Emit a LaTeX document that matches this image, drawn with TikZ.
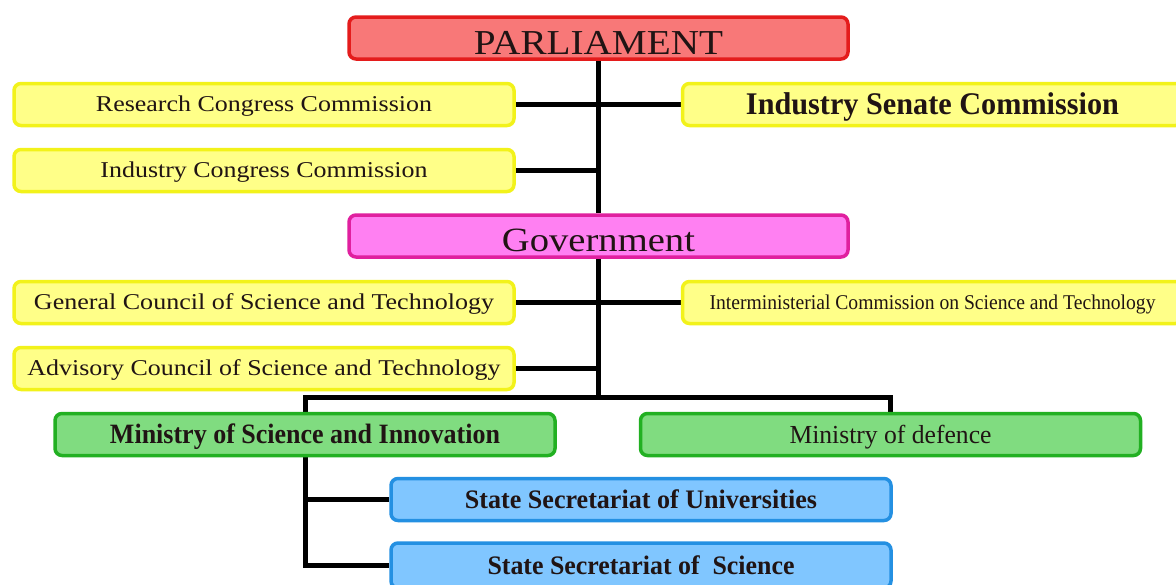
\documentclass[tikz,border=0pt]{standalone}
\usepackage{fontspec}
\usepackage{graphicx}
\usetikzlibrary{backgrounds}
\setmainfont{Liberation Serif}
\newcommand\fitw[2]{\resizebox{#1}{\height}{#2}}
\definecolor{redF}{HTML}{F87878}
\definecolor{redB}{HTML}{E41C1C}
\definecolor{yelF}{HTML}{FFFF88}
\definecolor{yelB}{HTML}{F2F21A}
\definecolor{magF}{HTML}{FF80F2}
\definecolor{magB}{HTML}{E0209F}
\definecolor{grnF}{HTML}{80DC80}
\definecolor{grnB}{HTML}{22B022}
\definecolor{bluF}{HTML}{80C6FF}
\definecolor{bluB}{HTML}{2490E2}
\definecolor{txt}{HTML}{201414}
\tikzset{
  box/.style={draw, line width=3.5pt, rounded corners=7pt, inner sep=0pt,
    minimum width=500pt, minimum height=42pt, text=txt, text depth=0pt},
  redbox/.style={box, draw=redB, fill=redF},
  yelbox/.style={box, draw=yelB, fill=yelF},
  magbox/.style={box, draw=magB, fill=magF},
  grnbox/.style={box, draw=grnB, fill=grnF},
  blubox/.style={box, draw=bluB, fill=bluF},
  fs/.style={font=\fontsize{#1}{#1}\selectfont, text height={0.662*#1pt}},
  bfs/.style={font=\fontsize{#1}{#1}\selectfont\bfseries, text height={0.662*#1pt}},
  link/.style={line width=5pt, black},
}
\begin{document}
\begin{tikzpicture}[x=1pt,y=-1pt]
\useasboundingbox (0,0) rectangle (1176,584);
\clip (0,0) rectangle (1176,584);

\node[redbox, fs=35, minimum width=499pt] (parl) at (598.5,38) {\raisebox{-5pt}{\fitw{249pt}{PARLIAMENT}}};
\node[magbox, fs=34, minimum width=499pt] (gov) at (598.5,236) {\raisebox{-4pt}{\fitw{193pt}{Government}}};

\node[yelbox, fs=22.6] (rcc) at (264,104.5) {\fitw{336pt}{Research Congress Commission}};
\node[yelbox, bfs=31.5] (isc) at (932.5,104.5) {\fitw{373pt}{Industry Senate Commission}};
\node[yelbox, fs=22.6] (icc) at (264,170.5) {\fitw{327pt}{Industry Congress Commission}};
\node[yelbox, fs=22.6] (gcst) at (264,302.5) {\fitw{460pt}{General Council of Science and Technology}};
\node[yelbox, fs=21] (icst) at (932.5,302.5) {\fitw{446pt}{Interministerial Commission on Science and Technology}};
\node[yelbox, fs=22.6] (acst) at (264,368.5) {\fitw{473pt}{Advisory Council of Science and Technology}};

\node[grnbox, bfs=28] (msi) at (305,434.5) {\fitw{390pt}{Ministry of Science and Innovation}};
\node[grnbox, fs=26] (mod) at (890.5,434.5) {\fitw{202pt}{Ministry of defence}};

\node[blubox, bfs=26.7] (ssu) at (641,499.5) {\fitw{352pt}{State Secretariat of Universities}};
\node[blubox, bfs=26.7, minimum height=45pt] (sss) at (641,565.5) {\fitw{307pt}{State Secretariat of~ Science}};

\coordinate (bar) at (598.5,397);

\begin{pgfonlayer}{background}
\fill[white] (0,0) rectangle (1176,584);
\draw[link] (parl.south) -- (gov.north);
\draw[link] (rcc.east) -- (isc.west);
\draw[link] (icc.east) -- (icc.east -| parl.south);
\draw[link] (gcst.east) -- (icst.west);
\draw[link] (acst.east) -- (acst.east -| gov.south);
\draw[link] (gov.south) -- (bar);
\draw[link] (msi.north) |- (bar) -| (mod.north);
\draw[link] (msi.south) |- (sss.west);
\draw[link] (ssu.west) -| (msi.south);
\end{pgfonlayer}
\end{tikzpicture}
\end{document}
